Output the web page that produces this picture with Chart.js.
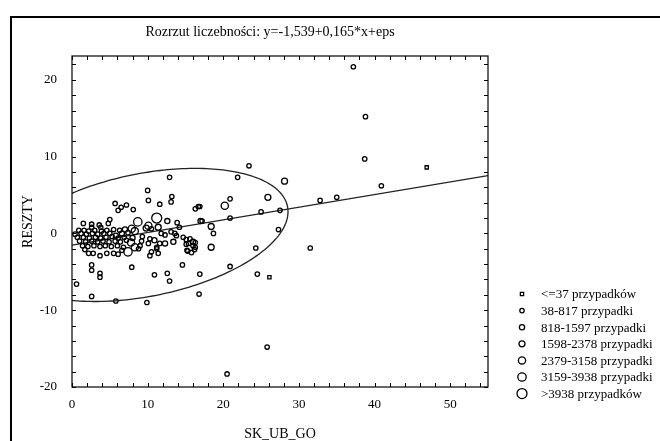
<!DOCTYPE html>
<html>
<head>
<meta charset="utf-8">
<script src="https://cdn.jsdelivr.net/npm/chart.js@4.4.1/dist/chart.umd.min.js"></script>
<style>
  html, body { margin: 0; padding: 0; background: #fff; }
  #wrap { width: 660px; height: 441px; }
</style>
</head>
<body>
<div id="wrap"><canvas id="chart" width="660" height="441"></canvas></div>
<script>
// Scatter of residuals (RESZTY) vs SK_UB_GO, marker size = case count class

const chartTitle = 'Rozrzut liczebności: y=-1,539+0,165*x+eps';
const xTitle = 'SK_UB_GO';
const yTitle = 'RESZTY';

// regression line from the title: y = b0 + b1*x
const regCoef = [-1.539, 0.165];
const xRange = [0, 55];
const yRange = [-20, 23.1];

// ellipse: x = cx + ax*cos t, y = cy + byc*cos t + bys*sin t
const ellipseCenter = [9.66, -0.2];
const ellipseAxes = [18.9, 3.03, 8.12];

const legendLabels = [
  '<=37 przypadków',
  '38-817 przypadki',
  '818-1597 przypadki',
  '1598-2378 przypadki',
  '2379-3158 przypadki',
  '3159-3938 przypadki',
  '>3938 przypadków'
];

const pts37 = [[46.9, 8.6], [26.1, -5.7]];

const pts817 = [
  [37.2, 21.7], [38.8, 15.2], [38.7, 9.7], [40.9, 6.2], [35.0, 4.7], [32.8, 4.3],
  [23.4, 8.8], [21.9, 7.3], [20.9, 4.5], [16.9, 3.5], [25.0, 2.8], [27.5, 3.0],
  [20.9, 2.0], [17.2, 1.6], [18.7, 0.0], [24.3, -1.9], [27.3, 0.5], [31.5, -1.9],
  [20.9, -4.3], [24.5, -5.3], [16.9, -5.3], [16.8, -7.9], [25.8, -14.8], [20.5, -18.3],
  [16.3, -1.2],
  [0.6, -6.6], [2.6, -4.1], [2.6, -4.8], [3.7, -5.2], [3.7, -5.7], [2.6, -8.2],
  [5.8, -8.8], [7.9, -4.4], [9.9, -9.0], [10.9, -5.4], [12.6, -5.2], [12.9, -6.2],
  [14.6, -4.1], [10.3, -2.9],
  [12.9, 7.3], [10.0, 5.6], [10.1, 4.3], [13.2, 4.8], [13.1, 4.1], [5.7, 3.9],
  [6.5, 3.4], [6.1, 3.0], [7.2, 3.7], [8.1, 3.1], [11.6, 3.8], [16.3, 3.2], [16.7, 3.5],
  [13.9, 1.4], [14.2, 0.8], [10.5, 0.6], [11.8, 0.0], [13.6, 0.0],
  [15.1, -0.8], [15.4, -1.3], [16.3, -1.8], [15.2, -2.2], [11.6, -1.3], [11.2, -1.8],
  [8.8, -2.0], [12.3, -0.2], [13.1, 0.2], [13.8, -0.3], [14.7, -0.5], [15.6, -0.7],
  [15.1, -1.4], [16.0, -1.6], [15.3, -2.3], [16.2, -2.1], [15.8, -2.5],
  [10.3, -0.7], [10.1, -1.3], [11.2, -2.0], [10.5, -2.4], [11.4, -2.6],
  // dense cluster near the origin
  [1.5, 1.3], [2.6, 1.2], [3.6, 1.1], [4.8, 1.3], [2.6, 0.8], [3.8, 0.8], [5.0, 1.8],
  [0.9, 0.4], [1.6, 0.4], [2.2, 0.3], [3.0, 0.4], [3.9, 0.3], [4.6, 0.4], [5.5, 0.5], [6.3, 0.4],
  [1.2, 0.0], [1.9, -0.1], [2.7, 0.0], [3.4, -0.1], [4.2, 0.0], [5.0, 0.0], [7.4, 0.1],
  [0.7, -0.5], [1.5, -0.5], [2.3, -0.6], [3.1, -0.5], [3.8, -0.6], [4.5, -0.5], [5.3, -0.4],
  [6.1, -0.6], [6.9, -0.5], [9.3, -0.4],
  [1.0, -1.0], [1.8, -1.1], [2.6, -1.0], [3.4, -1.1], [4.1, -1.0], [4.9, -1.1], [5.7, -1.0],
  [6.4, -1.1], [7.2, -0.9], [9.2, -1.0],
  [1.4, -1.6], [2.1, -1.7], [2.9, -1.6], [3.7, -1.7], [4.4, -1.6], [5.2, -1.7], [6.0, -1.6],
  [6.8, -1.8], [9.0, -1.6],
  [2.2, -2.6], [2.8, -2.6], [3.7, -2.9], [4.6, -2.6], [5.5, -2.6], [6.1, -2.7], [6.6, -2.2],
  [1.7, -2.1], [0.4, -0.1]
];

const pts1597 = [
  [12.6, 1.6], [17.0, 1.6], [16.0, -1.1], [13.4, -1.1], [10.9, -0.9], [12.3, -1.3],
  [6.6, 0.0], [5.8, -0.3], [7.0, 0.5], [8.0, -0.6]
];

const pts2378 = [[28.1, 6.8], [25.9, 4.7], [18.4, 0.9], [18.4, -1.8], [9.8, 0.7], [11.4, 0.8]];
const pts3158 = [[20.2, 3.6], [7.9, 0.6], [10.1, 1.0], [8.3, 0.3], [7.8, -1.2], [8.3, -1.8]];
const pts3938 = [[8.7, 1.5], [7.4, -2.4]];
const ptsMax = [[11.2, 2.0]];

const sizeGroups = [pts37, pts817, pts1597, pts2378, pts3158, pts3938, ptsMax];
const groupStyles = ['rect', 'circle', 'circle', 'circle', 'circle', 'circle', 'circle'];
const groupRadius = [2.3, 2.2, 2.6, 3.0, 3.6, 4.2, 5.0];

const serif = '"Liberation Serif", "Times New Roman", serif';

function toXY(list) {
  return list.map(p => ({x: p[0], y: p[1]}));
}

const datasets = sizeGroups.map((g, i) => ({
  label: legendLabels[i],
  data: toXY(g),
  pointStyle: groupStyles[i],
  pointRadius: groupRadius[i],
  pointBorderWidth: 1.3,
  borderColor: '#000',
  backgroundColor: 'rgba(0,0,0,0)',
  showLine: false
}));

datasets.push({
  label: 'regresja',
  data: xRange.map(x => ({x: x, y: regCoef[0] + regCoef[1] * x})),
  showLine: true,
  borderColor: '#222',
  borderWidth: 1.3,
  pointRadius: 0
});

const decor = {
  id: 'decor',
  beforeDraw(chart) {
    const ctx = chart.ctx;
    ctx.save();
    ctx.fillStyle = '#fff';
    ctx.fillRect(0, 0, chart.width, chart.height);
    ctx.strokeStyle = '#000';
    ctx.lineWidth = 2;
    ctx.strokeRect(11, 17, 700, 500);
    ctx.restore();
  },
  afterDatasetsDraw(chart) {
    const {ctx, chartArea: a, scales: {x, y}} = chart;
    ctx.save();
    ctx.beginPath();
    ctx.rect(a.left, a.top, a.right - a.left, a.bottom - a.top);
    ctx.clip();
    ctx.beginPath();
    for (let i = 0; i <= 240; i++) {
      const t = i / 240 * Math.PI * 2;
      const ex = ellipseCenter[0] + ellipseAxes[0] * Math.cos(t);
      const ey = ellipseCenter[1] + ellipseAxes[1] * Math.cos(t) + ellipseAxes[2] * Math.sin(t);
      const px = x.getPixelForValue(ex);
      const py = y.getPixelForValue(ey);
      if (i === 0) ctx.moveTo(px, py); else ctx.lineTo(px, py);
    }
    ctx.strokeStyle = '#222';
    ctx.lineWidth = 1.3;
    ctx.stroke();
    ctx.restore();
  },
  afterDraw(chart) {
    const {ctx, chartArea: a, scales: {x, y}} = chart;
    ctx.save();
    ctx.strokeStyle = '#000';
    ctx.lineWidth = 1.2;
    ctx.strokeRect(a.left, a.top, a.right - a.left, a.bottom - a.top);

    // inward ticks on all four sides
    const tl = 4;
    ctx.beginPath();
    x.ticks.forEach(t => {
      const px = Math.round(x.getPixelForValue(t.value)) + 0.5;
      ctx.moveTo(px, a.bottom); ctx.lineTo(px, a.bottom - tl);
      ctx.moveTo(px, a.top); ctx.lineTo(px, a.top + tl);
    });
    y.ticks.forEach(t => {
      const py = Math.round(y.getPixelForValue(t.value)) + 0.5;
      ctx.moveTo(a.left, py); ctx.lineTo(a.left + tl, py);
      ctx.moveTo(a.right, py); ctx.lineTo(a.right - tl, py);
    });
    ctx.lineWidth = 1;
    ctx.stroke();

    // title
    ctx.fillStyle = '#000';
    ctx.font = '14px ' + serif;
    ctx.textAlign = 'center';
    ctx.textBaseline = 'middle';
    ctx.fillText(chartTitle, 270, 32);

    // legend of size classes
    ctx.font = '13px ' + serif;
    ctx.textAlign = 'left';
    legendLabels.forEach((lab, i) => {
      const ly = 294 + i * 16.6;
      const r = groupRadius[i];
      ctx.beginPath();
      if (groupStyles[i] === 'rect') {
        const s = r * Math.SQRT1_2;
        ctx.rect(522 - s, ly - s, 2 * s, 2 * s);
      } else {
        ctx.arc(522, ly, r, 0, Math.PI * 2);
      }
      ctx.lineWidth = 1.3;
      ctx.stroke();
      ctx.fillText(lab, 541, ly + 1);
    });
    ctx.restore();
  }
};

new Chart(document.getElementById('chart'), {
  type: 'scatter',
  data: {datasets: datasets},
  plugins: [decor],
  options: {
    responsive: false,
    animation: false,
    layout: {padding: {top: 56, right: 172, bottom: 0, left: 0}},
    plugins: {
      legend: {display: false},
      title: {display: false},
      tooltip: {enabled: false}
    },
    scales: {
      x: {
        type: 'linear',
        min: xRange[0],
        max: xRange[1],
        grid: {display: false, drawTicks: false},
        border: {display: false},
        ticks: {
          stepSize: 2,
          includeBounds: false,
          autoSkip: false,
          maxRotation: 0,
          padding: 10,
          color: '#000',
          font: {family: serif, size: 13},
          callback: v => (v % 10 === 0 ? v : '')
        },
        title: {
          display: true,
          text: xTitle,
          color: '#000',
          font: {family: serif, size: 14, lineHeight: 1},
          padding: {top: 0, bottom: 0}
        },
        afterFit: s => { s.height = 54; }
      },
      y: {
        type: 'linear',
        min: yRange[0],
        max: yRange[1],
        grid: {display: false, drawTicks: false},
        border: {display: false},
        ticks: {
          stepSize: 2,
          includeBounds: false,
          autoSkip: false,
          padding: 15,
          color: '#000',
          font: {family: serif, size: 13},
          callback: v => (v % 10 === 0 ? v : '')
        },
        title: {
          display: true,
          text: yTitle,
          color: '#000',
          font: {family: serif, size: 14, lineHeight: 1},
          padding: {top: 21, bottom: 0}
        },
        afterFit: s => { s.width = 72; }
      }
    }
  }
});
</script>
</body>
</html>
